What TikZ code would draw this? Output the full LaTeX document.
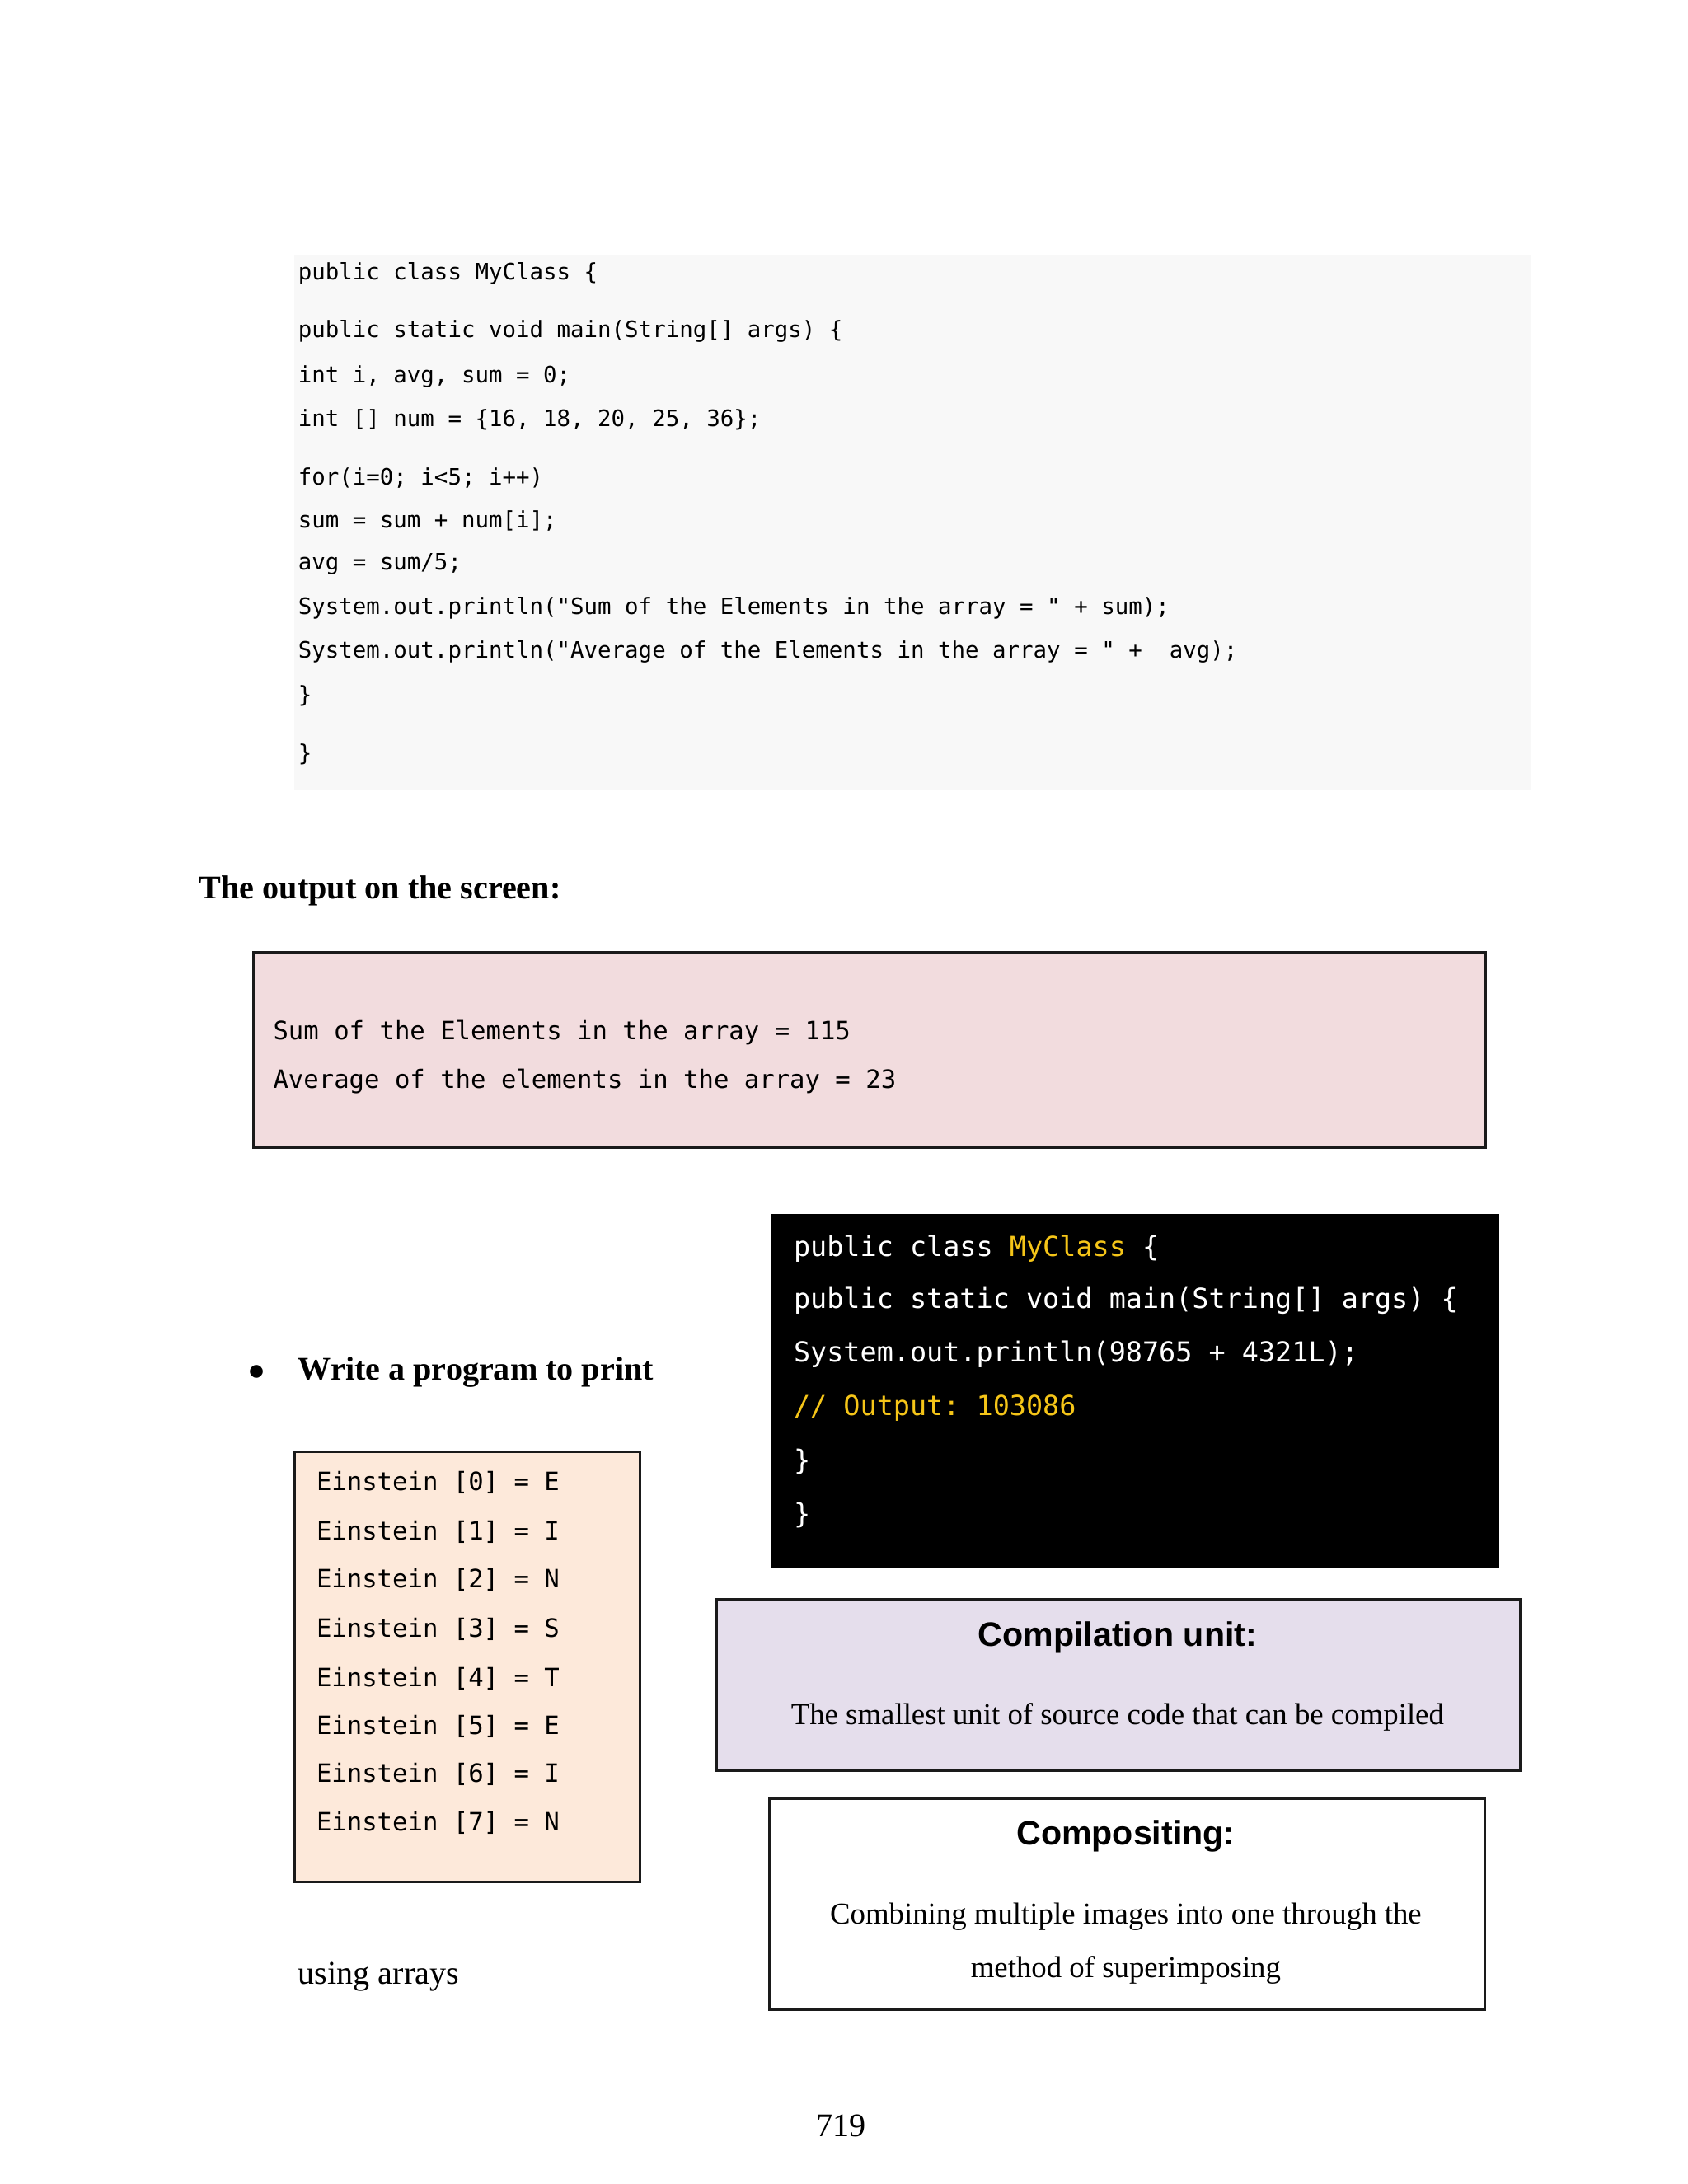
\documentclass[tikz,border=0pt]{standalone}
\usepackage{fontspec}
\setmainfont{Liberation Serif}
\setsansfont{Liberation Sans}
\setmonofont{DejaVu Sans Mono}
\definecolor{codebg}{HTML}{F8F8F8}
\definecolor{pinkbg}{HTML}{F2DCDE}
\definecolor{peachbg}{HTML}{FDE9DA}
\definecolor{lavbg}{HTML}{E5DEEC}
\definecolor{codeyellow}{HTML}{F5C518}
\definecolor{edge}{HTML}{1A1A1A}
\newcommand{\pu}{0.3015pt}
\tikzset{
  box/.style={draw=edge, line width=0.9pt, inner sep=0pt, anchor=north west},
  plain/.style={inner sep=0pt, anchor=north west},
  txt/.style={inner sep=0pt, anchor=west, text=black, yshift=-1.7pt},
  codeA/.style={txt, font=\ttfamily\fontsize{8.2}{9}\selectfont},
  codeB/.style={txt, font=\ttfamily\fontsize{9.15}{10}\selectfont},
  codeC/.style={txt, text=white, font=\ttfamily\fontsize{10}{11}\selectfont},
  serif/.style={txt, font=\rmfamily\fontsize{12}{14}\selectfont},
  serifb/.style={txt, font=\rmfamily\bfseries\fontsize{12}{14}\selectfont},
  sansb/.style={inner sep=0pt, anchor=center, yshift=-1.7pt, font=\sffamily\bfseries\fontsize{12.3}{14}\selectfont},
  serifc/.style={inner sep=0pt, anchor=center, yshift=-1.7pt, font=\rmfamily\fontsize{11}{13}\selectfont},
}
\begin{document}
\begin{tikzpicture}[x=\pu, y=-\pu]
\useasboundingbox[fill=white] (0,0) rectangle (2029.9,2626.9);
% code box 1
\node[plain, fill=codebg, minimum width=1487*\pu, minimum height=644*\pu] (cbox) at (353,306) {};
\node[codeA] (c1) at (358,323) {public class MyClass \{};
\node[codeA] (c2) at (358,393) {public static void main(String[] args) \{};
\node[codeA] (c3) at (358,447) {int i, avg, sum = 0;};
\node[codeA] (c4) at (358,499) {int [] num = \{16, 18, 20, 25, 36\};};
\node[codeA] (c5) at (358,569) {for(i=0; i<5; i++)};
\node[codeA] (c6) at (358,621) {sum = sum + num[i];};
\node[codeA] (c7) at (358,673) {avg = sum/5;};
\node[codeA] (c8) at (358,726) {System.out.println("Sum of the Elements in the array = " + sum);};
\node[codeA] (c9) at (358,778) {System.out.println("Average of the Elements in the array = " +\ \ avg);};
\node[codeA] (c10) at (358,831) {\}};
\node[codeA] (c11) at (358,902) {\}};
% heading
\node[serifb] (head) at (239,1066) {The output on the screen:};
% pink output box
\node[box, fill=pinkbg, minimum width=1482*\pu, minimum height=235*\pu] (pbox) at (303,1144) {};
\node[codeB] (p1) at (328,1236) {Sum of the Elements in the array = 115};
\node[codeB] (p2) at (328,1295) {Average of the elements in the array = 23};
% black box
\node[plain, fill=black, minimum width=875*\pu, minimum height=427*\pu] (bbox) at (927,1459) {};
\node[codeC] (b1) at (954,1496) {public class \textcolor{codeyellow}{MyClass} \{};
\node[codeC] (b2) at (954,1559) {public static void main(String[] args) \{};
\node[codeC] (b3) at (954,1623) {System.out.println(98765 + 4321L);};
\node[codeC, text=codeyellow] (b4) at (954,1688) {// Output: 103086};
\node[codeC] (b5) at (954,1752) {\}};
\node[codeC] (b6) at (954,1817) {\}};
% bullet
\node[txt, font=\rmfamily\fontsize{13}{14}\selectfont] (bul) at (298,1645) {$\bullet$};
\node[serifb] (write) at (358,1645) {Write a program to print};
% Einstein box
\node[box, fill=peachbg, minimum width=415*\pu, minimum height=517*\pu] (ebox) at (353,1745) {};
\node[codeB] (e0) at (380,1778) {Einstein [0] = E};
\node[codeB] (e1) at (380,1837) {Einstein [1] = I};
\node[codeB] (e2) at (380,1895) {Einstein [2] = N};
\node[codeB] (e3) at (380,1954) {Einstein [3] = S};
\node[codeB] (e4) at (380,2013) {Einstein [4] = T};
\node[codeB] (e5) at (380,2071) {Einstein [5] = E};
\node[codeB] (e6) at (380,2128) {Einstein [6] = I};
\node[codeB] (e7) at (380,2187) {Einstein [7] = N};
\node[serif] (using) at (358,2372) {using arrays};
% Compilation unit box
\node[box, fill=lavbg, minimum width=967*\pu, minimum height=206*\pu] (cubox) at (860,1922) {};
\node[sansb] (cut) at (1344,1964) {Compilation unit:};
\node[serifc] (cub) at (1344,2060) {The smallest unit of source code that can be compiled};
% Compositing box
\node[box, fill=white, minimum width=860*\pu, minimum height=254*\pu] (cobox) at (924,2162) {};
\node[sansb] (cot) at (1354,2203) {Compositing:};
\node[serifc] (cob1) at (1354,2300) {Combining multiple images into one through the};
\node[serifc] (cob2) at (1354,2364) {method of superimposing};
% page number
\node[inner sep=0pt, anchor=center, yshift=-1.7pt, font=\rmfamily\fontsize{12}{14}\selectfont] (pg) at (1012,2551) {719};
\end{tikzpicture}
\end{document}
